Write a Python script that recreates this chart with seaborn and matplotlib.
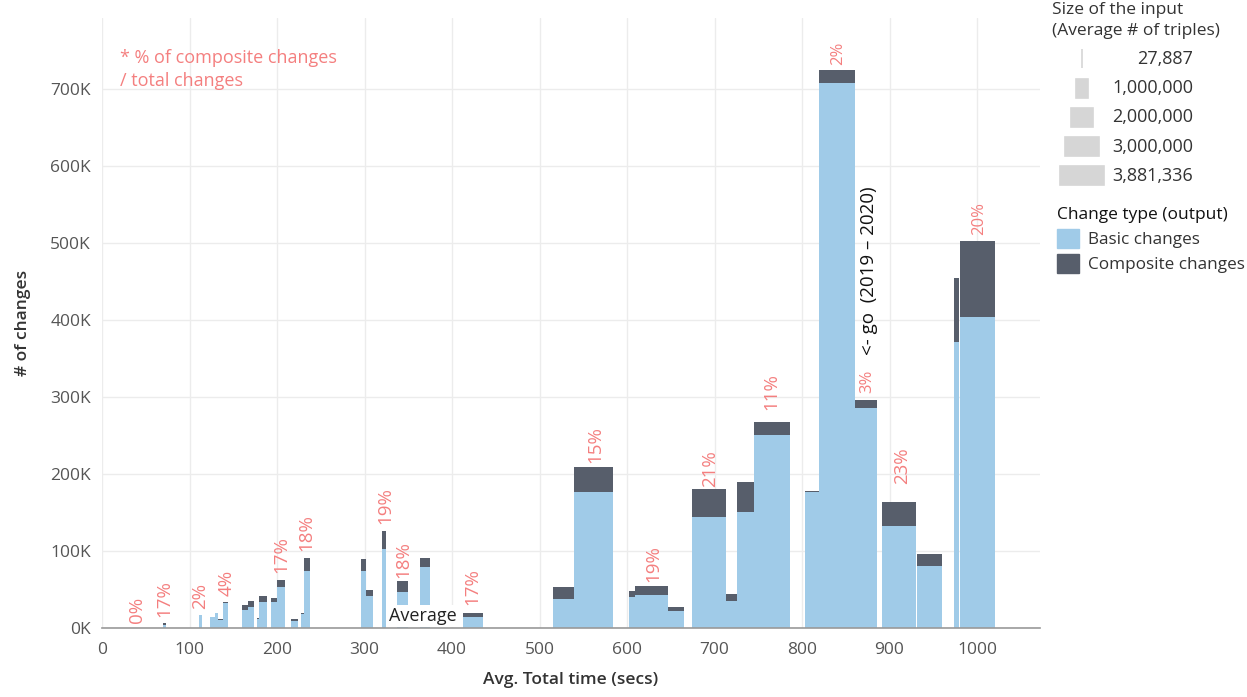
import matplotlib
matplotlib.use("Agg")
import numpy as np
import matplotlib.pyplot as plt
import matplotlib.transforms as mtransforms
from matplotlib.patches import Patch
from matplotlib.ticker import FuncFormatter, MultipleLocator
import seaborn as sns

# -------------------------------
# Data
# -------------------------------
# one bar per version: avg. total time (secs), bar width (secs, ~ input size)
avg_time = [71.3, 112.6, 126.2, 130.9, 135.8, 141.5, 163.4, 170.5, 178.6, 184.0,
            196.2, 204.4, 220.0, 229.2, 234.3, 298.5, 305.3, 322.3, 343.4, 369.2,
            424.0, 527.2, 561.9, 605.9, 628.2, 656.2, 693.5, 719.2, 735.2, 765.7,
            811.5, 839.9, 873.0, 910.8, 945.7, 976.8, 1000.4]
bar_width = [2.6, 3.3, 5.6, 3.9, 5.8, 5.6, 7.6, 6.5, 2.3, 8.4,
             6.8, 9.5, 8.8, 3.5, 6.8, 5.7, 8.0, 3.9, 13.2, 11.5,
             22.8, 24.4, 45.0, 6.5, 38.1, 17.9, 39.2, 12.2, 19.8, 41.2,
             15.4, 41.3, 24.9, 39.6, 28.6, 6.4, 40.7]
basic_changes = [3.5, 16.7, 14.5, 19.0, 10.0, 32.0, 24.0, 27.6, 12.0, 34.0,
                 34.0, 53.0, 9.0, 18.0, 73.7, 73.7, 42.0, 103.0, 47.0, 79.0,
                 14.5, 38.0, 176.5, 40.0, 42.6, 21.7, 144.0, 35.6, 150.0, 250.0,
                 177.0, 708.0, 286.0, 132.0, 80.5, 371.0, 404.0]          # thousands
composite_changes = [3.0, 0.4, 0.0, 0.6, 2.0, 1.5, 6.0, 8.0, 0.6, 7.7,
                     5.5, 9.7, 2.4, 1.7, 17.3, 16.3, 6.7, 23.0, 13.5, 12.0,
                     4.5, 15.5, 32.2, 8.0, 11.4, 6.1, 36.0, 8.4, 39.0, 17.0,
                     1.5, 17.0, 10.0, 31.0, 15.5, 84.0, 99.0]             # thousands

# % of composite changes / total changes labels
pct_time = [39.6, 71.5, 112.0, 142.5, 205.3, 233.9, 323.4, 344.3, 423.7, 563.4,
            630.0, 695.0, 765.3, 841.0, 875.0, 914.0, 1002.0]
pct_base = [7, 14.5, 25, 41, 71.5, 100, 135, 65, 30, 214,
            60, 183, 283, 731, 305, 187, 510]                           # thousands
pct_text = ["0%", "17%", "2%", "4%", "17%", "18%", "19%", "18%", "17%", "15%",
            "19%", "21%", "11%", "2%", "3%", "23%", "20%"]

# size legend
size_values = [27887, 1000000, 2000000, 3000000, 3881336]
size_labels = ["27,887", "1,000,000", "2,000,000", "3,000,000", "3,881,336"]

BASIC = "#a0cbe8"
COMPOSITE = "#575e6b"
SALMON = "#f47f7f"
LEGEND_GREY = "#d6d6d6"
TEXT = "#333333"

# -------------------------------
# Plot
# -------------------------------
sns.set_theme(style="whitegrid")
plt.rcParams["font.family"] = ["Open Sans", "DejaVu Sans"]

W, H = 1247, 697
fig = plt.figure(figsize=(W / 100, H / 100), dpi=100)
ax = fig.add_axes([102 / W, 1 - 628 / H, (1040 - 102) / W, (628 - 18) / H])

basic = np.array(basic_changes) * 1000
comp = np.array(composite_changes) * 1000

ax.bar(avg_time, basic, width=bar_width, color=BASIC, linewidth=0, zorder=2)
ax.bar(avg_time, comp, width=bar_width, bottom=basic, color=COMPOSITE,
       linewidth=0, zorder=2)

for i, (t, b, s) in enumerate(zip(pct_time, pct_base, pct_text)):
    fs = 12 if i in (13, 14, 16) else 13.5
    ax.text(t, b * 1000, s, rotation=90, ha="center", va="bottom",
            color=SALMON, fontsize=fs, zorder=4)

ax.text(877, 464000, "<- go  (2019 \u2013 2020)", rotation=90, ha="center",
        va="center", color="#111111", fontsize=13.5, zorder=4)
ax.text(20, 752000, "* % of composite changes\n/ total changes", ha="left",
        va="top", color=SALMON, fontsize=13, linespacing=1.35, zorder=4)
ax.text(367, 15500, "Average", ha="center", va="center", color="#222222",
        fontsize=13, zorder=5,
        bbox=dict(boxstyle="square,pad=0.12", fc="white", ec="none"))

ax.set_xlim(0, 1072)
ax.set_ylim(0, 792000)
ax.xaxis.set_major_locator(MultipleLocator(100))
ax.yaxis.set_major_locator(MultipleLocator(100000))
ax.yaxis.set_major_formatter(FuncFormatter(lambda v, p: f"{int(v / 1000)}K"))
ax.grid(True, color="#ececec", linewidth=1)
ax.set_axisbelow(True)
for side in ["top", "right", "left"]:
    ax.spines[side].set_visible(False)
ax.spines["bottom"].set_color("#999999")
ax.spines["bottom"].set_linewidth(1.2)
ax.tick_params(axis="both", labelsize=12.5, colors="#555555", length=0)
ax.tick_params(axis="x", pad=10)
ax.tick_params(axis="y", pad=8)
ax.set_xlabel("Avg. Total time (secs)", fontsize=12.5, color=TEXT,
              fontweight="semibold", labelpad=10)
ax.set_ylabel("# of changes", fontsize=12.5, color=TEXT,
              fontweight="semibold", labelpad=14)

# size legend
fig.text(1052 / W, 1 - 10 / H, "Size of the input", ha="left", va="center",
         fontsize=12.5, color=TEXT)
fig.text(1052 / W, 1 - 31 / H, "(Average # of triples)", ha="left",
         va="center", fontsize=12.5, color=TEXT)
lax = fig.add_axes([1052 / W, 1 - 190.6 / H, 60 / W, 146.25 / H])
sizes = np.array(size_values, dtype=float)
rows = np.arange(len(sizes))
lax.barh(rows, sizes, left=-sizes / 2, height=0.65, color=LEGEND_GREY,
         edgecolor=LEGEND_GREY, linewidth=1.2)
half = 30 / (44 / 3881336)
lax.set_xlim(-half, half)
lax.set_ylim(4.5, -0.5)
lax.axis("off")
trans = mtransforms.blended_transform_factory(lax.transAxes, lax.transData)
for r, lab in zip(rows, size_labels):
    lax.text((1193 - 1052) / 60, r, lab, transform=trans, ha="right",
             va="center", fontsize=13, color=TEXT)

# change type legend
handles = [Patch(color=BASIC), Patch(color=COMPOSITE)]
leg = fig.legend(handles, ["Basic changes", "Composite changes"],
                 title="Change type (output)", loc="upper left",
                 bbox_to_anchor=(1057 / W, 1 - 207 / H), frameon=False,
                 fontsize=12.3, title_fontsize=12.5, handlelength=1.3,
                 handleheight=1.3, handletextpad=0.5, labelspacing=0.35,
                 borderaxespad=0, borderpad=0, alignment="left")
for t in leg.get_texts():
    t.set_color(TEXT)
leg.get_title().set_color("#111111")

fig.savefig("out.png", dpi=100)
